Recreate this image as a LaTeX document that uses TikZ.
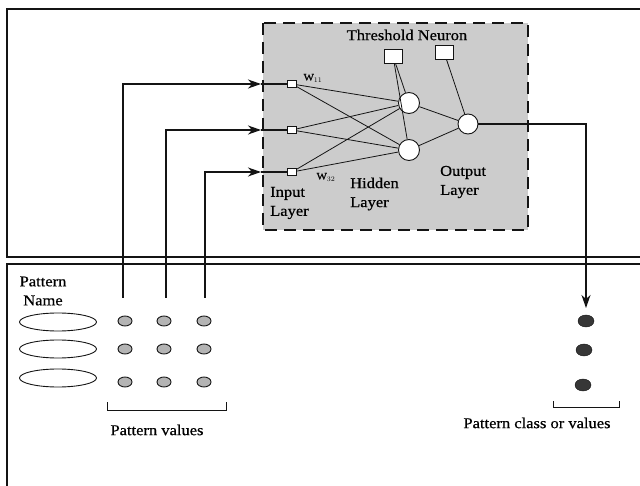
\documentclass[tikz,border=0pt]{standalone}
\usepackage{fontspec}
\setmainfont[FakeStretch=1.1,FakeBold=0.6]{Liberation Serif}
\usepackage{tikz}
\usetikzlibrary{arrows.meta,positioning,shapes.geometric}
\definecolor{figshade}{RGB}{204,204,204}
\definecolor{figdot}{RGB}{180,180,180}
\definecolor{figline}{RGB}{20,20,20}
\tikzset{
  inputcell/.style={draw=figline, line width=0.8pt, fill=white, minimum width=9pt, minimum height=7pt, inner sep=0pt},
  biascell/.style={draw=figline, line width=0.9pt, fill=white, minimum width=18pt, minimum height=14pt, inner sep=0pt},
  neuron/.style={circle, draw=figline, line width=0.9pt, fill=white, minimum size=21pt, inner sep=0pt},
  outneuron/.style={neuron, minimum size=20pt},
  namecell/.style={ellipse, draw=figline, line width=0.9pt, fill=white, minimum width=77pt, minimum height=18pt, inner sep=0pt},
  valuecell/.style={ellipse, draw=figline, line width=0.9pt, fill=figdot, minimum width=14pt, minimum height=10pt, inner sep=0pt},
  classcell/.style={ellipse, draw=figline, fill=figline!85, minimum width=16pt, minimum height=12pt, inner sep=0pt},
  link/.style={draw=figline, line width=0.8pt},
  line/.style={-{Stealth[length=13pt,width=9pt,inset=4pt]}, draw=figline, line width=1.2pt},
  frame/.style={draw=figline, line width=1.3pt},
  bracket/.style={draw=figline, line width=1pt},
  netpanel/.style={draw=figline, line width=1.4pt, dash pattern=on 12pt off 7pt, fill=figshade},
  figlabel/.style={font=\fontsize{15}{19}\selectfont, text=black, inner sep=0pt, align=left},
  weightlabel/.style={font=\fontsize{10}{11}\selectfont, text=black, inner sep=0pt}
}

\begin{document}
\begin{tikzpicture}[x=1pt,y=-1pt]
  \useasboundingbox (0,0) rectangle (640,486);
  \draw[frame] (640,9) -- (7,9) -- (7,257) -- (640,257);
  \draw[frame] (640,264) -- (7,264) -- (7,486);
  \draw[netpanel] (263,23) rectangle (528,230);

  \node[figlabel] (thrlabel) at (407,35) {Threshold Neuron};
  \node[biascell] (bias1) at (393,56) {};
  \node[biascell] (bias2) at (444,52) {};

  \node[inputcell] (in1) at (292,84) {};
  \node[inputcell] (in2) at (292,130) {};
  \node[inputcell] (in3) at (292,172) {};
  \node[neuron] (hid1) at (409,103) {};
  \node[neuron] (hid2) at (409,150) {};
  \node[outneuron] (out) at (468,124) {};

  \node[weightlabel] (w11) at (313,78) {W$_{11}$};
  \node[weightlabel] (w32) at (326,177) {W$_{32}$};
  \node[figlabel, anchor=west] (inlabel) at (270,203) {Input\\Layer};
  \node[figlabel, anchor=west] (hidlabel) at (350,194) {Hidden\\Layer};
  \node[figlabel, anchor=west] (outlabel) at (440,182) {Output\\Layer};

  \foreach \i in {1,2,3}
    \foreach \j in {1,2}
      \draw[link] (in\i) -- (hid\j);
  \draw[link] (hid1) -- (out);
  \draw[link] (hid2) -- (out);
  \draw[link] (bias1) -- (hid1);
  \draw[link] (bias1) -- (hid2);
  \draw[link] (bias2) -- (out);

  \coordinate (src1) at (123,298);
  \coordinate (src2) at (166,298);
  \coordinate (src3) at (205,298);
  \coordinate (tip1) at (261,84);
  \coordinate (tip2) at (261,130);
  \coordinate (tip3) at (261,172);
  \foreach \i in {1,2,3} {
    \draw[line] (src\i) |- (tip\i);
    \draw[link, line width=1.2pt] (tip\i) -- (in\i);
  }
  \coordinate (sink) at (586,308);
  \draw[line] (out) -| (sink);

  \node[figlabel, align=center] (namelabel) at (43,291) {Pattern\\Name};
  \node[namecell] (name1) at (58,322) {};
  \node[namecell] (name2) at (58,349) {};
  \node[namecell] (name3) at (58,378) {};

  \foreach \r/\y in {1/321,2/349,3/382}
    \foreach \c/\x in {1/125,2/164,3/204}
      \node[valuecell] (val\r\c) at (\x,\y) {};

  \node[classcell] (cls1) at (586,321) {};
  \node[classcell] (cls2) at (584,350) {};
  \node[classcell] (cls3) at (583,385) {};

  \draw[bracket] (107,402) -- (107,410) -- (226,410) -- (226,402);
  \draw[bracket] (553,401) -- (553,407) -- (619,407) -- (619,401);
  \node[figlabel] (vallabel) at (157,430) {Pattern values};
  \node[figlabel] (clslabel) at (537,423) {Pattern class or values};
\end{tikzpicture}
\end{document}
